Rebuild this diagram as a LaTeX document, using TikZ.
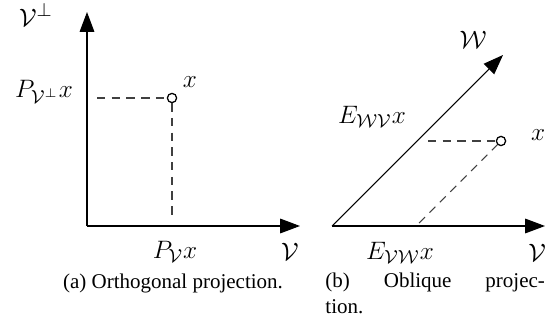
\documentclass[tikz,border=0pt]{standalone}
\usepackage{fontspec}
\setmainfont{Liberation Serif}
\usepackage{amsmath}
\usetikzlibrary{arrows.meta,positioning}
\tikzset{
  axis/.style={-{Triangle[length=9.5pt,width=7pt]}, line width=0.5pt},
  proj/.style={dash pattern=on 4pt off 3pt, draw=black!75, line width=0.5pt},
  pnt/.style={circle, draw, line width=0.6pt, inner sep=0pt, minimum size=4.4pt},
  lbl/.style={inner sep=1pt, font=\fontsize{12.6pt}{15pt}\selectfont},
  captxt/.style={inner sep=0pt, align=left}
}

\begin{document}
\begin{tikzpicture}[x=0.476pt, y=0.476pt]
  \useasboundingbox (0,0) rectangle (546,332);
  % (a) orthogonal projection
  \coordinate (oa) at (87,106);
  \coordinate (va) at (300,106);
  \coordinate (pa) at (87,320);
  \node[pnt] (xa) at (172,234) {};
  \coordinate (ha) at (97,234);
  \coordinate (fa) at (172,117);
  \draw[axis] (oa)--(va);
  \draw[axis] (oa)--(pa);
  \draw[proj] (ha)--(xa.west);
  \draw[proj] (xa.south)--(fa);
  \node[lbl] (vperp) at (36,317) {$\mathcal{V}^{\perp}$};
  \node[lbl] (pperp) at (44,240) {$P_{\mathcal{V}^{\perp}}x$};
  \node[lbl] (xlba) at (190,250) {$x$};
  \node[lbl] (pv) at (175,80) {$P_{\mathcal{V}}x$};
  \node[lbl] (vlba) at (290,80) {$\mathcal{V}$};
  \node[captxt] (capa) at (173,49) {(a) Orthogonal projection.};
  % (b) oblique projection
  \coordinate (ob) at (332,106);
  \coordinate (vb) at (545,106);
  \coordinate (wb) at (503,277);
  \node[pnt] (xb) at (501,191) {};
  \coordinate (hb) at (428,191);
  \coordinate (fb) at (419,109);
  \draw[axis] (ob)--(vb);
  \draw[axis] (ob)--(wb);
  \draw[proj] (hb)--(xb.west);
  \draw[proj] (fb)--(xb.south west);
  \node[lbl] (wlb) at (473,292) {$\mathcal{W}$};
  \node[lbl] (ewv) at (372,215) {$E_{\mathcal{W}\mathcal{V}}x$};
  \node[lbl] (xlbb) at (538,197) {$x$};
  \node[lbl] (evw) at (400,79) {$E_{\mathcal{V}\mathcal{W}}x$};
  \node[lbl] (vlbb) at (537,79) {$\mathcal{V}$};
  \node[captxt, anchor=north west] (capb) at (325,59)
    {\makebox[104.5pt][s]{(b) Oblique projec-}\\tion.};
\end{tikzpicture}
\end{document}
